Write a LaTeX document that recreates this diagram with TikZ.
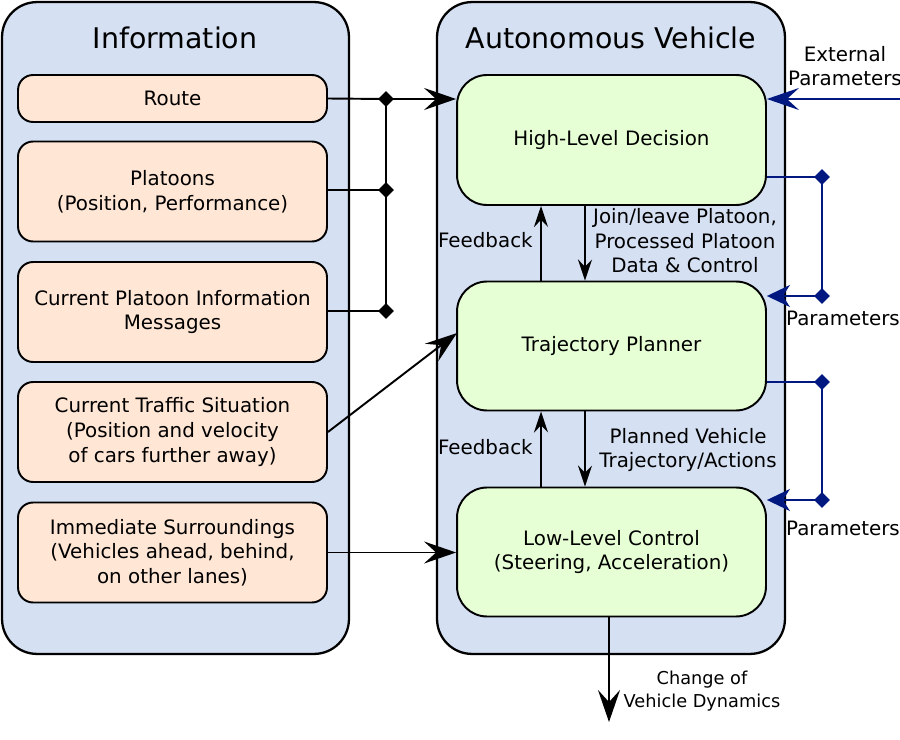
\documentclass[tikz,border=0pt]{standalone}
\usepackage{fontspec}
\setmainfont{DejaVu Sans}
\usetikzlibrary{arrows.meta,shapes.geometric,calc}

\definecolor{panelblue}{RGB}{213,224,243}
\definecolor{peach}{RGB}{255,230,213}
\definecolor{lightgreen}{RGB}{230,255,213}
\definecolor{navy}{RGB}{0,24,128}

\tikzset{
  panel/.style={draw,line width=1.3pt,fill=panelblue,rounded corners=0.7cm,
    minimum width=6.94cm,minimum height=13.04cm},
  info/.style={draw,line width=1.1pt,fill=peach,rounded corners=0.3cm,
    minimum width=6.18cm,minimum height=2cm,align=center},
  block/.style={draw,line width=1.1pt,fill=lightgreen,rounded corners=0.6cm,
    minimum width=6.18cm,minimum height=2.58cm,align=center},
  title/.style={font=\fontsize{16.2}{20}\selectfont},
  txt/.style={align=center,inner sep=0pt},
  jdot/.style={diamond,fill=black,inner sep=0pt,minimum size=0.32cm},
  bdot/.style={diamond,fill=navy,inner sep=0pt,minimum size=0.32cm},
  bigarr/.style={line width=1.1pt,-{Stealth[length=6.4mm,width=4.4mm,inset=2.4mm]}},
  smallarr/.style={line width=1.1pt,-{Stealth[length=4.2mm,width=2.8mm,inset=1.4mm]}},
  param/.style={navy,line width=1.1pt},
  paramarr/.style={navy,line width=1.1pt,-{Stealth[length=4.6mm,width=4.4mm,inset=1.4mm]}},
}

\begin{document}
\begin{tikzpicture}[x=0.02cm,y=-0.02cm,font=\fontsize{11.3}{14}\selectfont]
\useasboundingbox (0,0) rectangle (900,740);

% panels
\node[panel] (infopanel) at (175.5,328) {};
\node[panel,minimum width=6.96cm] (avpanel) at (611,328) {};
\node[title] (infotitle) at (175,38) {Information};
\node[title] (avtitle) at (611,38) {Autonomous Vehicle};

% information boxes
\node[info,minimum height=0.94cm] (route) at (172.5,98.5) {Route};
\node[info] (plat) at (172.5,191.5) {Platoons\\(Position, Performance)};
\node[info] (pinfo) at (172.5,312) {Current Platoon Information\\Messages};
\node[info] (traffic) at (172.5,432) {Current Traffic Situation\\(Position and velocity\\of cars further away)};
\node[info] (imm) at (172.5,552.5) {Immediate Surroundings\\(Vehicles ahead, behind,\\on other lanes)};

% vehicle blocks
\node[block,minimum height=2.6cm] (hld) at (611.5,140) {High-Level Decision};
\node[block] (tp) at (611.5,346) {Trajectory Planner};
\node[block] (llc) at (611.5,552) {Low-Level Control\\(Steering, Acceleration)};

% junction of the information lines
\node[jdot] (j1) at (386,99) {};
\node[jdot] (j2) at (386,190) {};
\node[jdot] (j3) at (386,311) {};
\draw[line width=1.1pt] (route.east) -- (j1.center);
\draw[line width=1.1pt] (plat.east |- j2) -- (j2.center);
\draw[line width=1.1pt] (pinfo.east |- j3) -- (j3.center);
\draw[line width=1.1pt] (j1.center) -- (j3.center);
\draw[bigarr] (j1.center) -- (hld.west |- j1);
\coordinate (tpin) at (457,333);
\draw[bigarr] (traffic.east) -- (tpin);
\draw[bigarr] (imm.east) -- (llc.west |- imm.east);

% feedback and commands
\draw[smallarr] ([xshift=-1.41cm]tp.north) -- ([xshift=-1.41cm]hld.south);
\draw[smallarr] ([xshift=-0.53cm]hld.south) -- ([xshift=-0.53cm]tp.north);
\draw[smallarr] ([xshift=-1.41cm]llc.north) -- ([xshift=-1.41cm]tp.south);
\draw[smallarr] ([xshift=-0.53cm]tp.south) -- ([xshift=-0.53cm]llc.north);
\node[txt,anchor=east] (fb1) at (533,240) {Feedback};
\node[txt,anchor=east] (fb2) at (533,447) {Feedback};
\node[txt] (cmd1) at (685,241) {Join/leave Platoon,\\Processed Platoon\\Data \& Control};
\node[txt] (cmd2) at (688,450) {Planned Vehicle\\Trajectory/Actions};

% output
\coordinate (out) at (609,722);
\draw[bigarr] (llc.south -| out) -- (out);
\node[txt,font=\fontsize{10.1}{13}\selectfont] (outlbl) at (702,691) {Change of\\Vehicle Dynamics};

% parameters
\coordinate (ext) at (900,99);
\draw[paramarr,-{Stealth[length=6.4mm,width=4.4mm,inset=2.4mm]}] (ext) -- (hld.east |- ext);
\node[txt] (extlbl) at (845,66) {External\\Parameters};
\node[bdot] (p1) at (822,177) {};
\node[bdot] (p2) at (822,296) {};
\draw[param] (hld.east |- p1) -- (p1.center) -- (p2.center);
\draw[paramarr] (p2.center) -- (tp.east |- p2);
\node[txt] (par1) at (843,318) {Parameters};
\node[bdot] (p3) at (822,382) {};
\node[bdot] (p4) at (822,500) {};
\draw[param] (tp.east |- p3) -- (p3.center) -- (p4.center);
\draw[paramarr] (p4.center) -- (llc.east |- p4);
\node[txt] (par2) at (843,528) {Parameters};
\end{tikzpicture}
\end{document}
